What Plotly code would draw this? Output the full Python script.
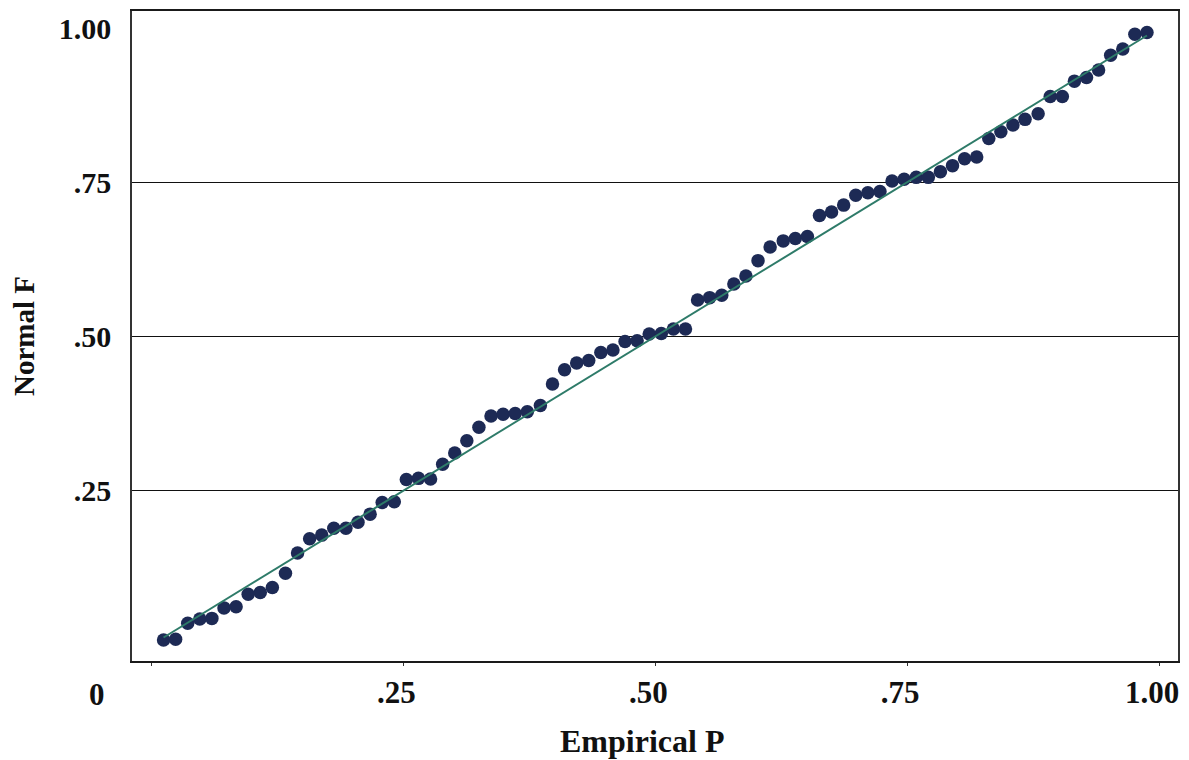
import plotly.graph_objects as go

# Empirical cumulative proportions (x) and normal CDF values (y)
empirical_p = [
    0.012, 0.024, 0.036, 0.048, 0.060, 0.072, 0.084, 0.096, 0.108, 0.120,
    0.133, 0.145, 0.157, 0.169, 0.181, 0.193, 0.205, 0.217, 0.229, 0.241,
    0.253, 0.265, 0.277, 0.289, 0.301, 0.313, 0.325, 0.337, 0.349, 0.361,
    0.373, 0.386, 0.398, 0.410, 0.422, 0.434, 0.446, 0.458, 0.470, 0.482,
    0.494, 0.506, 0.518, 0.530, 0.542, 0.554, 0.566, 0.578, 0.590, 0.602,
    0.614, 0.627, 0.639, 0.651, 0.663, 0.675, 0.687, 0.699, 0.711, 0.723,
    0.735, 0.747, 0.759, 0.771, 0.783, 0.795, 0.807, 0.819, 0.831, 0.843,
    0.855, 0.867, 0.880, 0.892, 0.904, 0.916, 0.928, 0.940, 0.952, 0.964,
    0.976, 0.988,
]
normal_f = [
    0.008, 0.009, 0.035, 0.042, 0.043, 0.060, 0.062, 0.082, 0.085, 0.093,
    0.116, 0.149, 0.172, 0.178, 0.189, 0.189, 0.199, 0.212, 0.231, 0.232,
    0.268, 0.270, 0.269, 0.293, 0.311, 0.331, 0.353, 0.371, 0.374, 0.375,
    0.378, 0.388, 0.423, 0.446, 0.457, 0.461, 0.474, 0.478, 0.492, 0.493,
    0.504, 0.505, 0.512, 0.512, 0.559, 0.563, 0.567, 0.585, 0.598, 0.623,
    0.645, 0.655, 0.659, 0.662, 0.696, 0.702, 0.713, 0.729, 0.733, 0.735,
    0.752, 0.755, 0.758, 0.758, 0.767, 0.777, 0.788, 0.791, 0.821, 0.832,
    0.843, 0.852, 0.861, 0.889, 0.889, 0.914, 0.920, 0.932, 0.956, 0.966,
    0.990, 0.993,
]

# Reference line y = x
ref_x = [0.012, 0.988]
ref_y = [0.012, 0.988]

x_tickvals = [0.0, 0.25, 0.50, 0.75, 1.00]
x_ticktext = ["", ".25", ".50", ".75", "1.00"]
y_tickvals = [0.25, 0.50, 0.75, 1.00]
y_ticktext = [".25", ".50", ".75", "1.00"]
grid_vals = [0.25, 0.50, 0.75]

X_TITLE = "Empirical P"
Y_TITLE = "Normal F"
ORIGIN_LABEL = "0"

X_RANGE = [-0.0193, 1.0188]
Y_RANGE = [-0.0261, 1.0277]

FONT = "Liberation Serif"

fig = go.Figure()
fig.add_trace(go.Scatter(
    x=empirical_p, y=normal_f, mode="markers",
    marker=dict(size=13.5, color="#1d2a55", line=dict(width=0)),
    showlegend=False, hoverinfo="x+y",
))
fig.add_trace(go.Scatter(
    x=ref_x, y=ref_y, mode="lines",
    line=dict(color="#2e7b69", width=2),
    showlegend=False, hoverinfo="skip",
))
# invisible trace to activate the grid axis
fig.add_trace(go.Scatter(
    x=[None], y=[None], yaxis="y2", showlegend=False, hoverinfo="skip",
))

# the page body has an 8px margin, so the figure is sized to fit the window
fig.update_layout(
    width=1181, height=752,
    margin=dict(l=123.5, r=11, t=3, b=99),
    paper_bgcolor="white", plot_bgcolor="white",
    font=dict(family=FONT, color="#111111"),
    xaxis=dict(
        range=X_RANGE, tickvals=x_tickvals, ticktext=x_ticktext,
        automargin=False,
        showgrid=False, zeroline=False,
        showline=True, linecolor="#1a1a1a", linewidth=2, mirror=True,
        ticks="outside", ticklen=3, tickcolor="#333333", tickwidth=1,
        ticklabelstandoff=0, ticklabelshift=-7,
        tickfont=dict(family=FONT, size=31, color="#111111", weight="bold"),
    ),
    yaxis=dict(
        range=Y_RANGE, tickvals=y_tickvals, ticktext=y_ticktext,
        automargin=False,
        showgrid=False, zeroline=False,
        showline=True, linecolor="#333333", linewidth=1.5, mirror=True,
        ticks="", ticklabelstandoff=13,
        tickfont=dict(family=FONT, size=30, color="#111111", weight="bold"),
        title=dict(text="<b>" + Y_TITLE + "</b>", font=dict(family=FONT, size=29, color="#111111"),
                   standoff=20),
    ),
    yaxis2=dict(
        range=Y_RANGE, overlaying="y", side="left",
        tickvals=grid_vals, showticklabels=False, ticks="",
        automargin=False,
        showgrid=True, gridcolor="#111111", gridwidth=1,
        zeroline=False, showline=False,
    ),
    annotations=[
        dict(
            text="<b>" + ORIGIN_LABEL + "</b>", xref="paper", yref="paper",
            x=-0.033, y=-0.052, xanchor="center", yanchor="middle", showarrow=False,
            font=dict(family=FONT, size=31, color="#111111"),
        ),
        dict(
            text="<b>" + X_TITLE + "</b>", xref="paper", yref="paper",
            x=0.488, y=-0.123, xanchor="center", yanchor="middle", showarrow=False,
            font=dict(family=FONT, size=32, color="#111111"),
        ),
    ],
)

fig.write_html("out.html")
